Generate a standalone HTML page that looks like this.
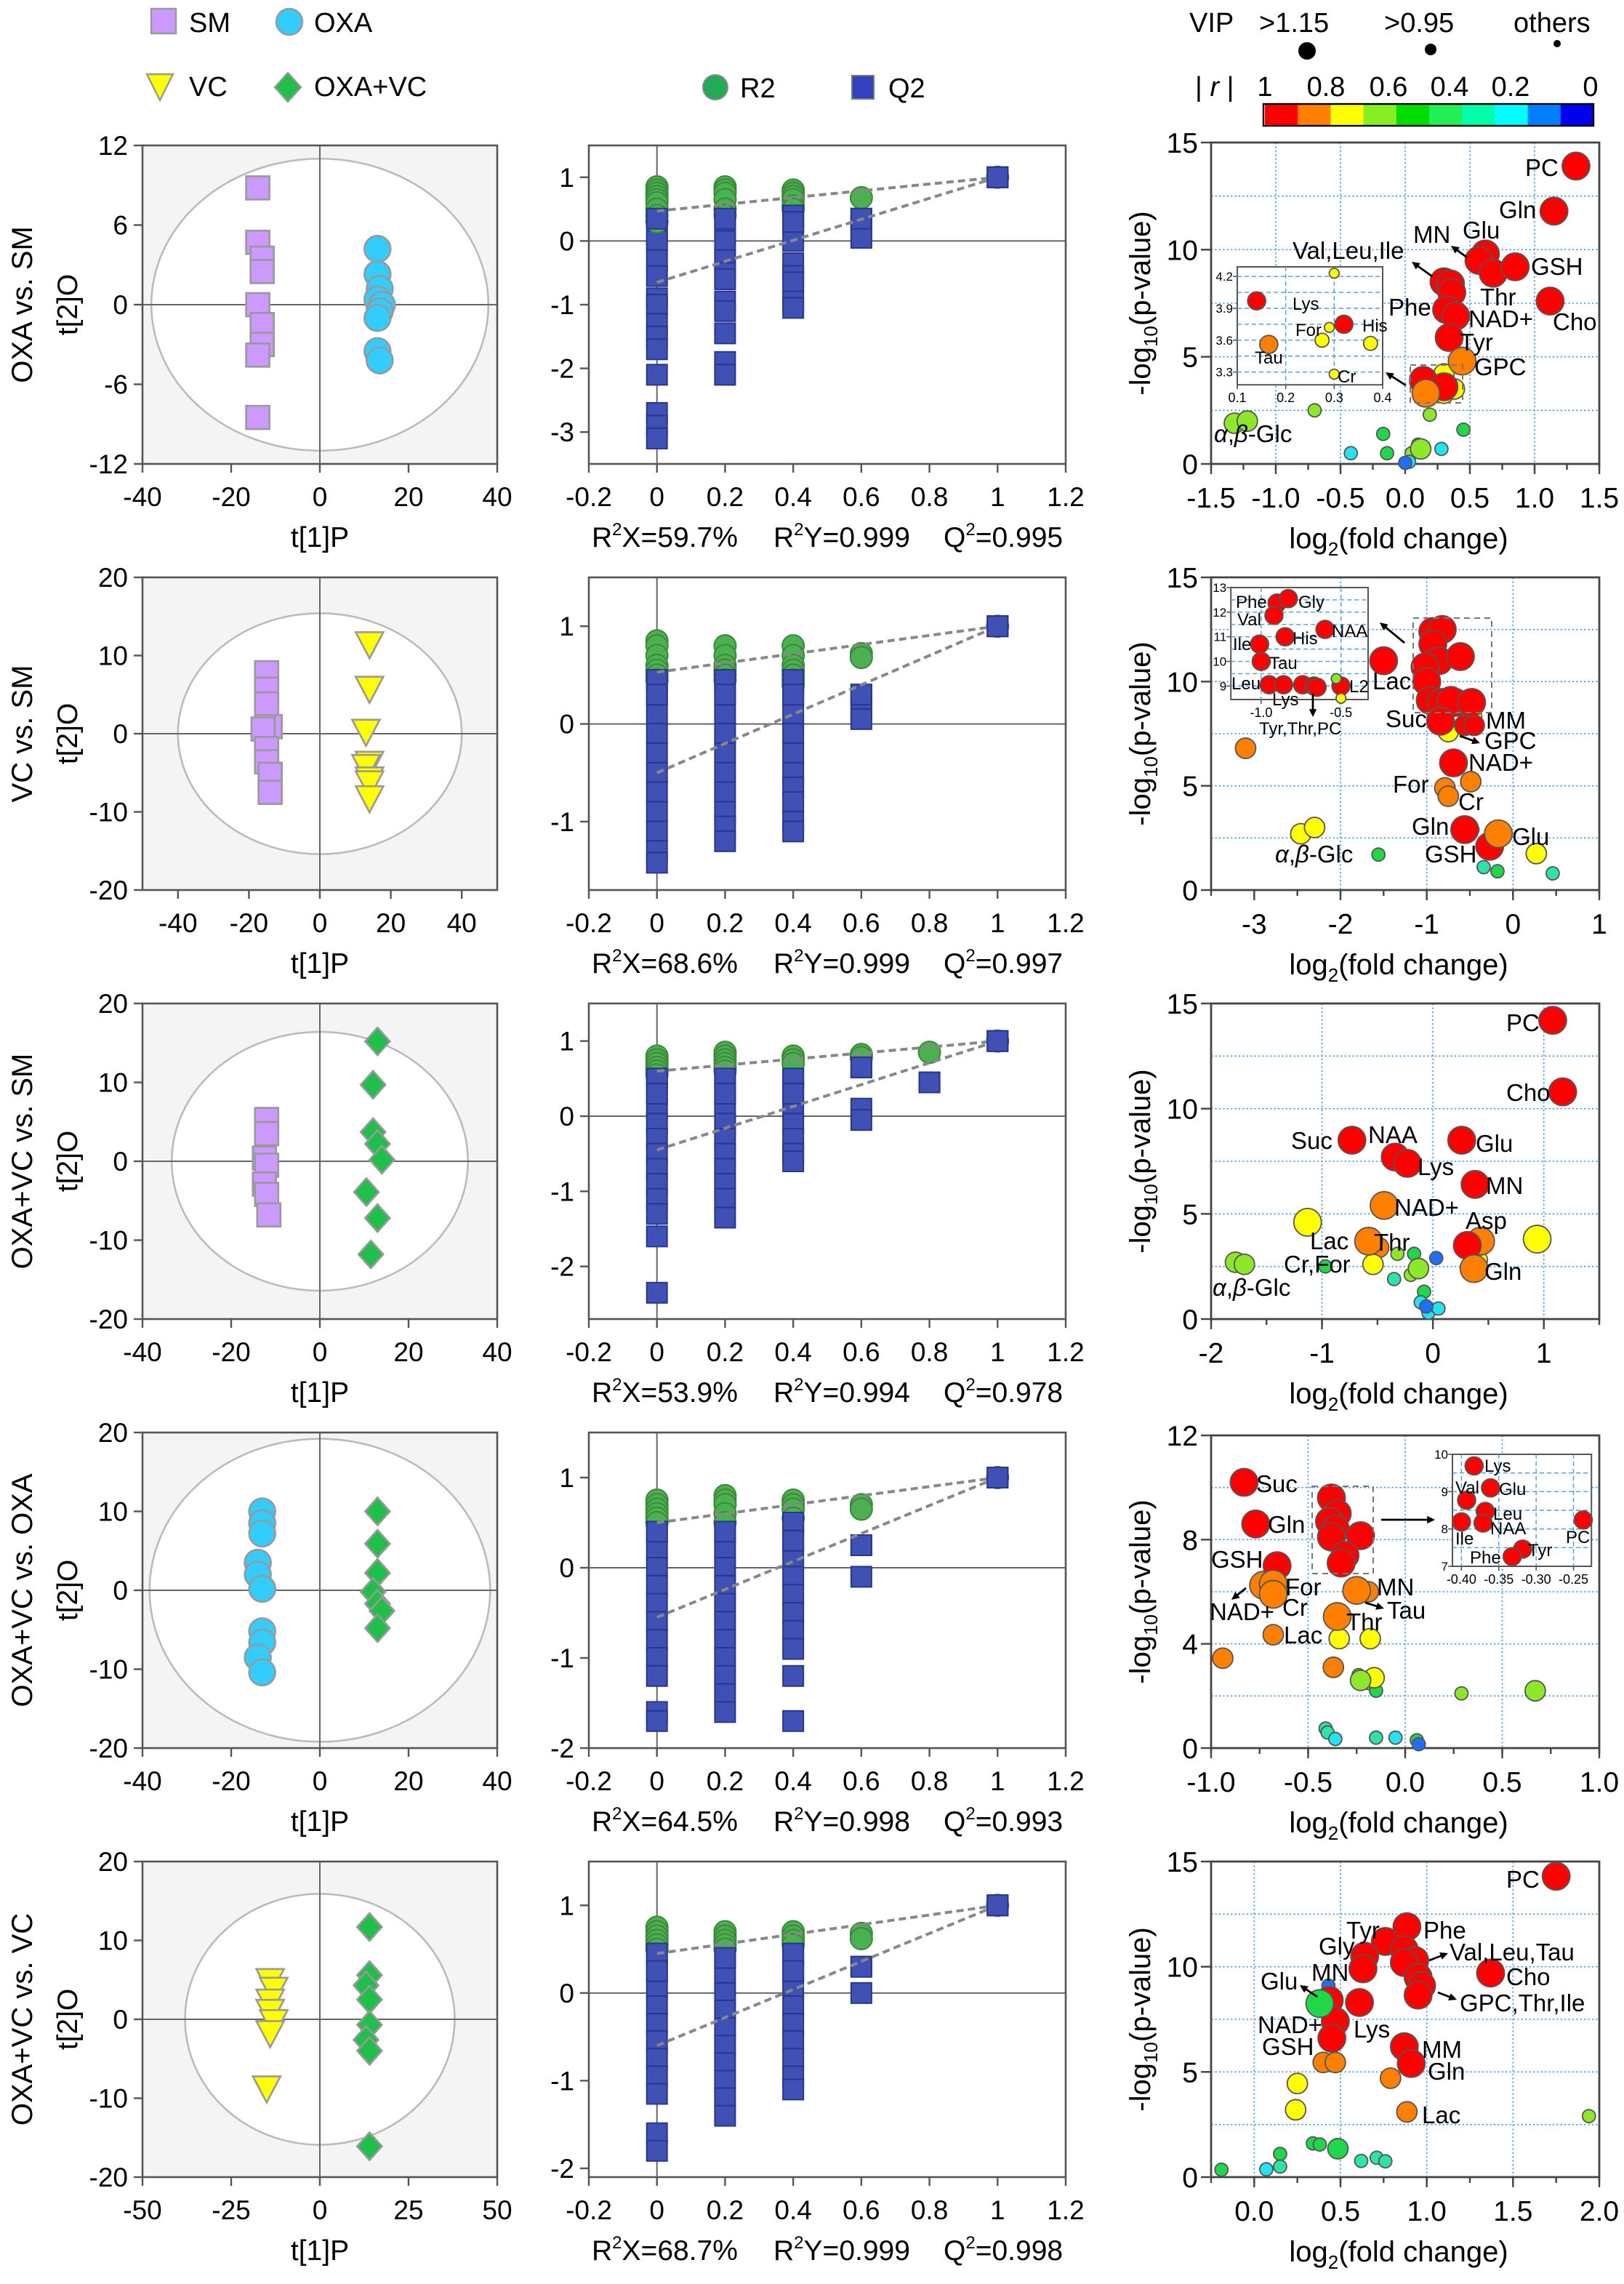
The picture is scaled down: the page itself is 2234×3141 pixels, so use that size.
<!DOCTYPE html>
<html><head><meta charset="utf-8">
<style>
html,body{margin:0;padding:0;background:#fff;}
svg{display:block;font-family:"Liberation Sans",Arial,sans-serif;}
</style></head>
<body>
<svg id="fig" xmlns="http://www.w3.org/2000/svg" width="2234" height="3141" viewBox="0 0 1117 1570.5" preserveAspectRatio="none"></svg>
<script>
// ---------- score plot data ----------
const s1Ax=[-14,-14,-13,-13,-14,-13,-13,-14,-14], s1Ay=[8.8,4.7,3.5,2.5,0,-1.5,-3.0,-3.8,-8.5];
const s1Bx=[13,13,13.5,13,14,13.5,13,13,13.5], s1By=[4.2,2.3,1.2,0.4,0,-0.5,-1,-3.5,-4.2];
const s2Ax=[-15,-15,-15,-14,-16,-15,-15,-14,-14], s2Ay=[7.8,5.7,3.8,0.9,0.6,-1.9,-3.6,-5.2,-7.5];
const s2Bx=[14,14,13,14,13,14,14,14], s2By=[11.5,5.8,0.3,-3.8,-4.2,-5.8,-6.3,-8.2];
const s3Ax=[-12,-12,-12.5,-12,-12.5,-12,-11.5], s3Ay=[5.3,3.5,0.4,-0.5,-2.9,-4.2,-6.8];
const s3Bx=[13,12,12,13,14,10.5,13,11.5], s3By=[15.2,9.7,3.7,2.2,0.2,-3.9,-7.2,-11.8];
const s4Ax=[-13,-13,-13,-14,-14,-13,-13,-13,-14,-13], s4Ay=[10,8.5,7.2,3.5,2,0.2,-5.2,-6.6,-8.5,-10.4];
const s4Bx=[13,13,13,12,13,14,13], s4By=[10,5.9,2.2,-0.2,-1.7,-2.6,-4.8];
const s5Ax=[-14,-13,-14,-14,-13,-14,-15], s5Ay=[4.9,3.8,2.3,1,-0.3,-1.7,-8.7];
const s5Bx=[14,14,13,14,14,13,14,14], s5By=[11.7,5.6,4.3,2.5,-0.7,-2.6,-4,-16.1];
// ---------- permutation data ----------
const permX=[0,0.2,0.4,0.6,0.8,1];
const p1R2=[[0.85,0.8,0.75,0.7,0.65,0.6,0.5,0.4,0.3],[0.85,0.8,0.75,0.65,0.5,0.4],[0.8,0.75,0.7,0.65,0.55,0.5],[0.68],[],[1]];
const p1Q2=[[0.35,0.1,0,-0.3,-0.55,-0.9,-1.0,-1.3,-1.5,-1.7,-2.1,-2.7,-2.9,-3.1],[0.35,0.2,0,-0.3,-0.5,-0.6,-0.95,-1.1,-1.45,-1.9,-2.1],[0.4,0.3,0,-0.35,-0.55,-0.65,-0.95,-1.05],[0.35,0.2,0.05],[],[1]];
const p2R2=[[0.85,0.8,0.7,0.6,0.55,0.5,0.45],[0.8,0.7,0.6,0.55,0.5,0.45],[0.8,0.7,0.6,0.55,0.5,0.45,0.4],[0.72,0.68],[],[1]];
const p2Q2=[[0.45,0.3,0.1,-0.1,-0.3,-0.5,-0.7,-0.9,-1.1,-1.3,-1.42],[0.45,0.3,0.1,-0.1,-0.3,-0.5,-0.7,-0.9,-1.05,-1.2],[0.45,0.3,0.1,-0.1,-0.3,-0.5,-0.65,-0.8,-1.0,-1.1],[0.3,0.15,0.05],[],[1]];
const p3R2=[[0.8,0.75,0.7,0.65,0.6,0.55],[0.85,0.8,0.75,0.7,0.65,0.6],[0.8,0.75,0.7],[0.82,0.78],[0.85],[1]];
const p3Q2=[[0.5,0.3,0.1,-0.1,-0.3,-0.5,-0.7,-0.9,-1.1,-1.3,-1.6,-2.35],[0.5,0.3,0.1,-0.1,-0.3,-0.5,-0.7,-0.9,-1.1,-1.35],[0.5,0.3,0.1,-0.1,-0.3,-0.5,-0.6],[0.65,0.1,-0.05],[0.45],[1]];
const p4R2=[[0.75,0.7,0.65,0.6,0.55,0.5],[0.8,0.75,0.7,0.6,0.5],[0.75,0.7,0.65,0.55],[0.7,0.65],[],[1]];
const p4Q2=[[0.4,0.2,0,-0.2,-0.4,-0.6,-0.8,-1.0,-1.2,-1.6,-1.7],[0.4,0.2,0,-0.2,-0.4,-0.6,-0.8,-1.0,-1.2,-1.4,-1.6],[0.5,0.3,0.1,-0.1,-0.3,-0.5,-0.7,-0.9,-1.2,-1.7],[0.25,-0.1],[],[1]];
const p5R2=[[0.75,0.7,0.65,0.6,0.55,0.5],[0.7,0.65,0.6,0.55,0.5],[0.7,0.65,0.6,0.55],[0.68,0.62],[],[1]];
const p5Q2=[[0.45,0.25,0.05,-0.15,-0.35,-0.55,-0.75,-0.95,-1.15,-1.6,-1.8],[0.4,0.2,0,-0.2,-0.4,-0.6,-0.8,-1.0,-1.2,-1.4],[0.45,0.25,0.05,-0.15,-0.35,-0.55,-0.75,-0.95,-1.1],[0.3,0.0],[],[1]];
const permR2int=[0.47,0.53,0.6,0.5,0.45];
const permQ2int=[-0.65,-0.5,-0.45,-0.55,-0.6];
const permStats=[["59.7%","0.999","0.995"],["68.6%","0.999","0.997"],["53.9%","0.994","0.978"],["64.5%","0.998","0.993"],["68.7%","0.999","0.998"]];
// ---------- volcano data ----------
const v1x=[1.32,1.15,0.62,0.57,0.68,0.85,1.12,0.30,0.35,0.36,0.32,0.39,0.34,0.44,0.14,0.30,0.16,0.30,0.30,0.38,0.19,-0.70,-1.32,-1.22,0.45,-0.17,-0.14,-0.42,0.28,0.10,0.12,0.05,0.03,0.00];
const v1y=[13.9,11.8,9.8,9.5,8.9,9.2,7.6,8.5,8.4,8.0,7.2,6.9,5.9,4.8,3.9,3.6,3.3,4.2,3.3,3.5,2.3,2.5,1.9,2.0,1.6,1.4,0.5,0.5,0.7,0.9,0.7,0.5,0.1,0.05];
const v1s="LLLLLLLLLLLLLLLLLMMMSSMMSSSSSSMSSS";
const v1c="RRRRRRRRRRRRRORROYYYGGGGNNNCCSGGCB";
const i1x=[0.14,0.32,0.165,0.29,0.275,0.375,0.30,0.30], i1y=[3.97,3.75,3.56,3.72,3.6,3.57,4.23,3.28];
const i1s="LLLSMMSS", i1c="RROYYYYY";
const v2x=[-0.93,-0.82,-0.93,-0.86,-0.61,-1.02,-1.0,-1.5,-0.96,-0.83,-0.67,-0.72,-0.48,-0.52,-0.84,-0.75,-0.48,-0.56,-0.45,-0.69,-0.49,-0.79,-0.75,-3.1,-0.56,-0.47,-0.27,-0.17,0.27,-2.46,-2.3,-1.56,-0.34,-0.18,0.46];
const v2y=[12.4,12.5,11.8,11.0,11.2,10.7,10.0,11.0,9.1,9.0,9.0,9.1,9.0,9.3,8.1,7.6,8.3,7.9,7.9,6.1,5.2,4.9,4.5,6.8,2.9,2.9,2.1,2.7,1.75,2.7,3.0,1.7,1.1,0.9,0.8];
const v2s="LLLLLLLLLLLLLSLMMMMLMMMMLSLLMMMSSSS";
const v2c="RRRRRRRRRRRRRGRYYRRROOOORYROYYYNSNS";
const i2x=[-0.9,-0.83,-0.92,-0.6,-0.85,-1.01,-1.0,-0.95,-0.86,-0.74,-0.67,-0.65,-0.5,-0.53,-0.5];
const i2y=[12.37,12.55,11.87,11.3,11.0,10.7,10.0,9.05,9.05,9.05,9.0,8.95,9.0,9.3,8.5];
const i2s="LLLLLLLLLLLLLSS", i2c="RRRRRRRRRRRRRGY";
const v3x=[1.08,1.17,-0.73,-0.34,-0.23,0.26,0.38,-0.44,0.43,0.31,-1.13,0.94,-0.58,-0.49,0.37,0.40,-0.54,-1.78,-1.70,-0.32,-0.17,0.03,-0.35,-0.13,-0.20,-0.08,-0.11,-0.04,0.05,-0.06,-0.97];
const v3y=[14.2,10.8,8.5,7.7,7.4,8.5,6.4,5.4,3.7,3.5,4.6,3.8,3.7,3.4,2.4,2.8,2.6,2.7,2.6,3.1,3.1,2.9,1.9,2.4,2.1,1.3,0.8,0.3,0.5,0.6,2.5];
const v3s="LLLLLLLLLLLLLMLMMMMSSSSMSSSSSSS";
const v3c="RRRRRRROORYYOOOYYGGGNBSGGNCCCBN";
const v4x=[-0.83,-0.77,-0.66,-0.38,-0.35,-0.39,-0.36,-0.38,-0.23,-0.31,-0.33,-0.73,-0.68,-0.68,-0.25,-0.19,-0.35,-0.68,-0.34,-0.18,-0.94,-0.37,-0.16,-0.24,-0.23,-0.19,-0.15,0.29,0.67,-0.41,-0.40,-0.36,-0.15,-0.05,0.06,0.07];
const v4y=[10.2,8.6,7.0,9.6,9.0,8.7,8.4,8.1,8.15,7.4,7.1,6.25,6.3,5.9,6.05,6.0,5.05,4.35,4.2,4.2,3.45,3.1,2.7,2.8,2.6,2.5,2.2,2.1,2.2,0.75,0.6,0.35,0.4,0.4,0.3,0.15];
const v4s="LLLLLLLLLLLLLLLMLMMMMMMSMSSSMSSSSSSS";
const v4c="RRRRRRRRRRROOOOOOOYYOOYGGGNGGSSCSCNB";
const i4x=[-0.383,-0.361,-0.393,-0.368,-0.40,-0.371,-0.237,-0.318,-0.332];
const i4y=[9.69,9.1,8.77,8.47,8.19,8.16,8.24,7.46,7.26];
const i4s="LLLLLLLLL", i4c="RRRRRRRRR";
const v5x=[1.75,0.885,0.76,0.64,0.63,0.87,0.93,0.87,0.95,0.97,0.95,1.37,0.435,0.61,0.47,0.45,0.87,0.91,0.38,0.43,0.40,0.47,0.79,0.885,0.25,0.24,1.94,0.34,0.38,0.485,0.15,0.15,0.07,-0.19,0.62,0.71,0.76];
const v5y=[14.3,11.9,11.2,10.5,9.9,10.8,10.3,10.2,9.5,9.1,8.65,9.7,8.4,8.3,7.4,6.6,6.2,5.4,8.25,9.1,5.45,5.45,4.7,3.1,4.45,3.2,2.9,1.6,1.55,1.35,1.1,0.5,0.37,0.35,0.77,0.92,0.75];
const v5s="LLLLLLLLLLLLLLLLLLLSMMMMMMSSSMSSSSSSS";
const v5c="RRRRRRRRRRRRRRRRRRNBOOOOYYGNNNNSCNSSS";

const COL={R:"#ff0000",O:"#ff8000",Y:"#ffff00",G:"#8ee82a",N:"#1fd84a",S:"#2ee3a8",C:"#22e3f0",B:"#1f6fff"};
const RAD={L:9.5,M:7,S:4.5};
const IRAD={L:6.2,M:4.8,S:3.4};

const NS="http://www.w3.org/2000/svg";
const svg=document.getElementById("fig");
function mk(tag,parent,attrs){const e=document.createElementNS(NS,tag);for(const k in attrs)e.setAttribute(k,attrs[k]);(parent||svg).appendChild(e);return e;}
function txt(parent,x,y,s,size,anchor,extra){const t=mk("text",parent,Object.assign({x:x,y:y,"font-size":size,"text-anchor":anchor||"start",fill:"#000"},extra||{}));t.textContent=s;return t;}
function lin(a,b){return v=>a[2]+(v-a[0])*(a[3]-a[2])/(a[1]-a[0]);}

// ---------- legend ----------
const lg=mk("g",svg,{});


let e;
e=mk("rect",lg,{x:104,y:6,width:17,height:17,fill:"#cc99ff",stroke:"#999","stroke-width":1.2});

txt(lg,130,22,"SM",19);
e=mk("circle",lg,{cx:199,cy:15,r:9,fill:"#33ccff",stroke:"#999","stroke-width":1.2});

txt(lg,216,22,"OXA",19);
e=mk("path",lg,{d:"M101,51 L119,51 L110,69 Z",fill:"#ffff00",stroke:"#999","stroke-width":1.2});

txt(lg,130,66,"VC",19);
e=mk("path",lg,{d:"M198,50 L207,60 L198,70 L189,60 Z",fill:"#1fbf4a",stroke:"#999","stroke-width":1.2});

txt(lg,216,66,"OXA+VC",19);
e=mk("circle",lg,{cx:492,cy:60,r:8.5,fill:"#22aa55",stroke:"#888","stroke-width":1});

txt(lg,509,67,"R2",19);
e=mk("rect",lg,{x:586,y:52,width:15,height:16,fill:"#3340c0",stroke:"#777","stroke-width":1});

txt(lg,611,67,"Q2",19);
txt(lg,818,22,"VIP",19);txt(lg,866,22,">1.15",19);txt(lg,952,22,">0.95",19);txt(lg,1041,22,"others",19);
e=mk("circle",lg,{cx:899,cy:35,r:6,fill:"#000"});
e=mk("circle",lg,{cx:984,cy:34,r:4,fill:"#000"});
e=mk("circle",lg,{cx:1071,cy:30,r:2.5,fill:"#000"});
const rt=txt(lg,822,66,"",19);rt.innerHTML='| <tspan font-style="italic">r</tspan> |';
const cbLabels=["1","0.8","0.6","0.4","0.2","0"], cbLX=[870,912,955,997,1039,1094];
cbLabels.forEach((s,i)=>txt(lg,cbLX[i],66,s,19,"middle"));
const cbColors=["#ff0000","#ff8000","#ffff00","#88ee22","#00dd00","#22ee55","#00ffaa","#00ffff","#0080ff","#0000ee"];
const cb=mk("g",lg,{});
cbColors.forEach((c,i)=>mk("rect",cb,{x:870+i*22.6,y:72,width:22.8,height:14,fill:c}));
mk("rect",cb,{x:869,y:71.5,width:227,height:15,fill:"none",stroke:"#000","stroke-width":1.2});

// ---------- rows ----------
const rowTop=[100,397,690,985,1280], rowBot=[319,612,907,1202,1497];
const rowTitles=["OXA vs. SM","VC vs. SM","OXA+VC vs. SM","OXA+VC vs. OXA","OXA+VC vs. VC"];
const scoreXdom=[[-40,40],[-50,50],[-40,40],[-40,40],[-50,50]];
const scoreXt=[[-40,-20,0,20,40],[-40,-20,0,20,40],[-40,-20,0,20,40],[-40,-20,0,20,40],[-50,-25,0,25,50]];
const scoreYdom=[[-12,12],[-20,20],[-20,20],[-20,20],[-20,20]];
const scoreYt=[[-12,-6,0,6,12],[-20,-10,0,10,20],[-20,-10,0,10,20],[-20,-10,0,10,20],[-20,-10,0,10,20]];
const ellR=[[38,11],[40,15.4],[33.4,16.4],[38.4,19.2],[38,15.9]];
const scoreA=[[s1Ax,s1Ay,"sq"],[s2Ax,s2Ay,"sq"],[s3Ax,s3Ay,"sq"],[s4Ax,s4Ay,"ci"],[s5Ax,s5Ay,"tri"]];
const scoreB=[[s1Bx,s1By,"ci"],[s2Bx,s2By,"tri"],[s3Bx,s3By,"dia"],[s4Bx,s4By,"dia"],[s5Bx,s5By,"dia"]];
const permR2=[p1R2,p2R2,p3R2,p4R2,p5R2], permQ2=[p1Q2,p2Q2,p3Q2,p4Q2,p5Q2];
const permYdom=[[-3.5,1.5],[-1.7,1.5],[-2.7,1.5],[-2.0,1.5],[-2.1,1.5]];
const permYt=[[-3,-2,-1,0,1],[-1,0,1],[-2,-1,0,1],[-2,-1,0,1],[-2,-1,0,1]];

function marker(g,kind,x,y){
  if(kind==="sq")return mk("rect",g,{x:x-8,y:y-8,width:16,height:16,fill:"#cc99ff",stroke:"#999","stroke-width":1.3});
  if(kind==="ci")return mk("circle",g,{cx:x,cy:y,r:9,fill:"#33ccff",stroke:"#999","stroke-width":1.3});
  if(kind==="tri")return mk("path",g,{d:`M${x-9.5},${y-8} L${x+9.5},${y-8} L${x},${y+10} Z`,fill:"#ffff00",stroke:"#999","stroke-width":1.3});
  return mk("path",g,{d:`M${x},${y-9.5} L${x+8.5},${y} L${x},${y+9.5} L${x-8.5},${y} Z`,fill:"#1fbf4a",stroke:"#999","stroke-width":1.3});
}
function fmt(v){return (v<0?"-":"")+Math.abs(v);}

for(let r=0;r<5;r++){
  const T=rowTop[r],B=rowBot[r];
  // ----- score plot -----
  const g=mk("g",svg,{});
  
  
  const X=lin([scoreXdom[r][0],scoreXdom[r][1],98,342]),Y=lin([scoreYdom[r][0],scoreYdom[r][1],B,T]);
  mk("rect",g,{x:98,y:T,width:244,height:B-T,fill:"#f4f4f4"});
  const el=mk("ellipse",g,{cx:X(0),cy:Y(0),rx:X(ellR[r][0])-X(0),ry:Y(0)-Y(ellR[r][1]),fill:"#fff",stroke:"#bbb","stroke-width":1.3});
  
  mk("line",g,{x1:98,x2:342,y1:Y(0),y2:Y(0),stroke:"#666","stroke-width":1});
  mk("line",g,{x1:X(0),x2:X(0),y1:T,y2:B,stroke:"#666","stroke-width":1});
  mk("rect",g,{x:98,y:T,width:244,height:B-T,fill:"none",stroke:"#555","stroke-width":1.3});
  scoreXt[r].forEach(v=>{mk("line",g,{x1:X(v),x2:X(v),y1:B,y2:B+6,stroke:"#555","stroke-width":1.2});txt(g,X(v),B+29,fmt(v),18.5,"middle");});
  scoreYt[r].forEach(v=>{mk("line",g,{x1:92,x2:98,y1:Y(v),y2:Y(v),stroke:"#555","stroke-width":1.2});txt(g,88,Y(v)+6.5,fmt(v),18.5,"end");});
  [scoreA[r],scoreB[r]].forEach((grp,gi)=>{
    const gg=mk("g",g,{});
    
    
    grp[0].forEach((xv,i)=>{const m=marker(gg,grp[2],X(xv),Y(grp[1][i]));
      
      });
  });
  txt(g,220,B+57,"t[1]P",19.5,"middle");
  const cy=(T+B)/2;
  const yt=txt(g,0,0,"t[2]O",19.5,"middle",{transform:`translate(53,${cy}) rotate(-90)`});
  
  const tt=txt(g,0,0,rowTitles[r],20,"middle",{transform:`translate(22,${cy}) rotate(-90)`});
  

  // ----- permutation plot -----
  const p=mk("g",svg,{});
  
  
  const PX=lin([-0.2,1.2,405,733]),PY=lin([permYdom[r][0],permYdom[r][1],B,T]);
  mk("line",p,{x1:405,x2:733,y1:PY(0),y2:PY(0),stroke:"#666","stroke-width":1});
  mk("line",p,{x1:PX(0),x2:PX(0),y1:T,y2:B,stroke:"#666","stroke-width":1});
  mk("rect",p,{x:405,y:T,width:328,height:B-T,fill:"none",stroke:"#555","stroke-width":1.3});
  [-0.2,0,0.2,0.4,0.6,0.8,1,1.2].forEach(v=>{mk("line",p,{x1:PX(v),x2:PX(v),y1:B,y2:B+6,stroke:"#555","stroke-width":1.2});txt(p,PX(v),B+29,fmt(+v.toFixed(1)),18.5,"middle");});
  permYt[r].forEach(v=>{mk("line",p,{x1:399,x2:405,y1:PY(v),y2:PY(v),stroke:"#555","stroke-width":1.2});txt(p,395,PY(v)+6.5,fmt(v),18.5,"end");});
  const qs=mk("g",p,{});
  permQ2[r].forEach((arr,k)=>arr.forEach(v=>{const s=mk("rect",qs,{x:PX(permX[k])-7,y:PY(v)-7,width:14,height:14,fill:"#3f51b5",stroke:"#2a3590","stroke-width":1});
    
    }));
  const rs=mk("g",p,{});
  permR2[r].forEach((arr,k)=>arr.forEach(v=>{const c=mk("circle",rs,{cx:PX(permX[k]),cy:PY(v),r:7.5,fill:"#4cb050",stroke:"#3a8a3a","stroke-width":1});
    
    }));
  // redraw blue squares above circles for overlapping region (as in original)
  permQ2[r].forEach((arr,k)=>arr.forEach(v=>{if(v>0.2){const s=mk("rect",p,{x:PX(permX[k])-7,y:PY(v)-7,width:14,height:14,fill:"#3f51b5",stroke:"#2a3590","stroke-width":1});
    
    }}));
  let l=mk("line",p,{x1:PX(0),y1:PY(permR2int[r]),x2:PX(1),y2:PY(1),stroke:"#888","stroke-width":2,"stroke-dasharray":"5,3"});
  
  l=mk("line",p,{x1:PX(0),y1:PY(permQ2int[r]),x2:PX(1),y2:PY(1),stroke:"#888","stroke-width":2,"stroke-dasharray":"5,3"});
  
  const fin=mk("rect",p,{x:PX(1)-7,y:PY(1)-7,width:14,height:14,fill:"#3f51b5",stroke:"#2a3590","stroke-width":1});
  
  const st=permStats[r];
  let s1=txt(p,407,B+57,"",19.5);s1.innerHTML=`R<tspan font-size="12" dy="-8">2</tspan><tspan dy="8">X=${st[0]}</tspan>`;
  
  s1=txt(p,532,B+57,"",19.5);s1.innerHTML=`R<tspan font-size="12" dy="-8">2</tspan><tspan dy="8">Y=${st[1]}</tspan>`;
  
  s1=txt(p,649,B+57,"",19.5);s1.innerHTML=`Q<tspan font-size="12" dy="-8">2</tspan><tspan dy="8">=${st[2]}</tspan>`;
  
}

// ---------- volcano plots ----------
const VC=[
 {xd:[-1.5,1.5],yd:[0,15],xt:[-1.5,-1,-0.5,0,0.5,1,1.5],xl:["-1.5","-1.0","-0.5","0.0","0.5","1.0","1.5"],yt:[0,5,10,15],gx:[-1,-0.5,0,0.5,1],gy:[2.5,5,7.5,10,12.5],mn:0.25,x:v1x,y:v1y,s:v1s,c:v1c},
 {xd:[-3.5,1],yd:[0,15],xt:[-3,-2,-1,0,1],xl:["-3","-2","-1","0","1"],yt:[0,5,10,15],gx:[-2,-1,0],gy:[2.5,5,7.5,10,12.5],mn:0.5,x:v2x,y:v2y,s:v2s,c:v2c},
 {xd:[-2,1.5],yd:[0,15],xt:[-2,-1,0,1],xl:["-2","-1","0","1"],yt:[0,5,10,15],gx:[-1,0,1],gy:[2.5,5,7.5,10,12.5],mn:0.5,x:v3x,y:v3y,s:v3s,c:v3c},
 {xd:[-1,1],yd:[0,12],xt:[-1,-0.5,0,0.5,1],xl:["-1.0","-0.5","0.0","0.5","1.0"],yt:[0,4,8,12],gx:[-0.5,0,0.5],gy:[2,4,6,8,10],mn:0.25,x:v4x,y:v4y,s:v4s,c:v4c},
 {xd:[-0.25,2],yd:[0,15],xt:[0,0.5,1,1.5,2],xl:["0.0","0.5","1.0","1.5","2.0"],yt:[0,5,10,15],gx:[0,0.5,1,1.5],gy:[2.5,5,7.5,10,12.5],mn:0.25,x:v5x,y:v5y,s:v5s,c:v5c}
];
const vTop=[98,397,690,987,1280];
function dot(g,x,y,r,c,name){const d=mk("circle",g,{cx:x,cy:y,r:r,fill:c,stroke:"#555","stroke-width":0.9});
  
  return d;}
function arrow(g,x1,y1,x2,y2){const a=Math.atan2(y2-y1,x2-x1),h=6;
  mk("line",g,{x1:x1,y1:y1,x2:x2-Math.cos(a)*4,y2:y2-Math.sin(a)*4,stroke:"#000","stroke-width":1.4});
  mk("path",g,{d:`M${x2},${y2} L${x2-h*Math.cos(a-0.45)},${y2-h*Math.sin(a-0.45)} L${x2-h*Math.cos(a+0.45)},${y2-h*Math.sin(a+0.45)} Z`,fill:"#000"});}

const VL=[
 [["PC",1049,121],["Gln",1031,150],["Glu",1006,164],["MN",972,167],["Val,Leu,Ile",889,178],["GSH",1053,189],["Thr",1018,210],["Cho",1068,227],["Phe",955,217],["NAD+",1010,225],["Tyr",1004,241],["GPC",1014,258]],
 [["Lac",944,474],["Suc",953,500],["MM",1022,501],["GPC",1021,515],["NAD+",1010,530],["For",958,545],["Cr",1003,557],["Gln",971,574],["GSH",980,593],["Glu",1040,581]],
 [["PC",1036,709],["Cho",1036,757],["Suc",888,790],["NAA",941,786],["Glu",1015,792],["Lys",975,808],["MN",1022,821],["NAD+",959,836],["Asp",1008,845],["Lac",901,859],["Thr",945,860],["Cr,For",883,875],["Gln",1021,880]],
 [["Suc",864,1026],["Gln",872,1054],["GSH",833,1078],["For",884,1097],["NAD+",832,1114],["Cr",882,1111],["MN",947,1097],["Tau",954,1113],["Thr",926,1121],["Lac",883,1130]],
 [["PC",1036,1298],["Tyr",926,1333],["Phe",979,1333],["Gly",907,1344],["Val,Leu,Tau",997,1348],["MN",902,1362],["Glu",867,1368],["Cho",1036,1365],["GPC,Thr,Ile",1004,1383],["NAD+",865,1398],["Lys",931,1401],["GSH",868,1413],["MM",978,1415],["Gln",982,1430],["Lac",978,1460]]
];
const VA=[
 [[985,190,971,180],[1009,177,998,169],[967,265,953,256]],
 [[966,442,949,428],[1004,506,1018,511]],
 [],
 [[857,1092,847,1100],[939,1102,952,1106],[950,1045,987,1045]],
 [[906,1373,894,1365],[983,1348,996,1343],[989,1370,1002,1375]]
];
const glcPos=[[835,304],[877,593],[834,891]];

for(let r=0;r<5;r++){
  const cfg=VC[r],T=vTop[r],B=rowBot[r];
  const g=mk("g",svg,{});
  
  
  const X=lin([cfg.xd[0],cfg.xd[1],833,1100]),Y=lin([cfg.yd[0],cfg.yd[1],B,T]);
  cfg.gx.forEach(v=>mk("line",g,{x1:X(v),x2:X(v),y1:T,y2:B,stroke:"#4d9be6","stroke-width":0.8,"stroke-dasharray":"1.2,1.5"}));
  cfg.gy.forEach(v=>mk("line",g,{x1:833,x2:1100,y1:Y(v),y2:Y(v),stroke:"#4d9be6","stroke-width":0.8,"stroke-dasharray":"1.2,1.5"}));
  mk("rect",g,{x:833,y:T,width:267,height:B-T,fill:"none",stroke:"#444","stroke-width":1.4});
  for(let v=cfg.xd[0];v<=cfg.xd[1]+1e-9;v+=cfg.mn) mk("line",g,{x1:X(v),x2:X(v),y1:B,y2:B+4,stroke:"#444","stroke-width":1.2});
  cfg.xt.forEach((v,i)=>{mk("line",g,{x1:X(v),x2:X(v),y1:B,y2:B+7,stroke:"#444","stroke-width":1.2});txt(g,X(v),B+30,cfg.xl[i],19.5,"middle");});
  cfg.yt.forEach(v=>{mk("line",g,{x1:826,x2:833,y1:Y(v),y2:Y(v),stroke:"#444","stroke-width":1.2});txt(g,824,Y(v)+7,String(v),19.5,"end");});
  const yl=txt(g,0,0,"",20,"middle",{transform:`translate(791,${(T+B)/2}) rotate(-90)`});
  yl.innerHTML='-log<tspan font-size="13" dy="5">10</tspan><tspan dy="-5">(p-value)</tspan>';
  
  const xl=txt(g,962,B+58,"",20,"middle");
  xl.innerHTML='log<tspan font-size="13" dy="5">2</tspan><tspan dy="-5">(fold change)</tspan>';
  
  // points: draw small first, large last
  const pts=mk("g",g,{});
  ["S","M","L"].forEach(sz=>cfg.x.forEach((xv,i)=>{if(cfg.s[i]===sz)dot(pts,X(xv),Y(cfg.y[i]),RAD[sz],COL[cfg.c[i]],'metabolite-point');}));
  VL[r].forEach(lb=>{const t=txt(g,lb[1],lb[2],lb[0],16.5);});
  VA[r].forEach(a=>arrow(g,a[0],a[1],a[2],a[3]));
  if(r<3){const t=txt(g,glcPos[r][0],glcPos[r][1],"",16.5);t.innerHTML='<tspan font-style="italic">α</tspan>,<tspan font-style="italic">β</tspan>-Glc';
    }
}
// dashed selection boxes
[[1006-36,251,36,26],[972,425,54,65],[902.5,1022,42,60]].forEach(b=>{const d=mk("rect",svg,{x:b[0],y:b[1],width:b[2],height:b[3],fill:"none",stroke:"#777","stroke-width":1,"stroke-dasharray":"4,3"});
  });

// ---------- insets ----------
const IN=[
 {bx:[851,951,183.5,264.6],xd:[0.1,0.4],yd:[3.18,4.29],xt:[0.1,0.2,0.3,0.4],xl:["0.1","0.2","0.3","0.4"],yt:[3.3,3.6,3.9,4.2],gx:[0.2,0.3],gy:[3.3,3.45,3.6,3.75,3.9,4.05,4.2],x:i1x,y:i1y,s:i1s,c:i1c,
  lab:[["Lys",889,213],["His",937,228],["For",891,231],["Tau",863,250],["Cr",920,263]]},
 {bx:[846.6,941,404,481],xd:[-1.19,-0.33],yd:[8.45,13.0],xt:[-1,-0.5],xl:["-1.0","-0.5"],yt:[9,10,11,12,13],gx:[-1,-0.5],gy:[9,9.5,10,10.5,11,11.5,12,12.5],x:i2x,y:i2y,s:i2s,c:i2c,
  lab:[["Phe",850,418],["Gly",893,418],["Val",851,430],["His",889,443],["NAA",916,438],["Ile",848,447],["Tau",873,460],["Leu",847,474],["L2",928,476],["Lys",875,485],["Tyr,Thr,PC",866,505]]},
 {bx:[999,1094.6,1000,1077],xd:[-0.412,-0.226],yd:[7,10],xt:[-0.4,-0.35,-0.3,-0.25],xl:["-0.40","-0.35","-0.30","-0.25"],yt:[7,8,9,10],gx:[-0.4,-0.35,-0.3,-0.25],gy:[7.5,8,8.5,9,9.5],x:i4x,y:i4y,s:i4s,c:i4c,
  lab:[["Lys",1021,1012],["Val",1001,1027],["Glu",1031,1028],["Leu",1027,1045],["NAA",1025,1055],["Ile",1001,1062],["PC",1077,1061],["Tyr",1051,1070],["Phe",1011,1075]]}
];
IN.forEach((c,k)=>{
  const g=mk("g",svg,{});
  
  
  const [x0,x1,y0,y1]=c.bx;
  const X=lin([c.xd[0],c.xd[1],x0,x1]),Y=lin([c.yd[0],c.yd[1],y1,y0]);
  mk("rect",g,{x:x0,y:y0,width:x1-x0,height:y1-y0,fill:"#fff",stroke:"#555","stroke-width":1});
  c.gx.forEach(v=>mk("line",g,{x1:X(v),x2:X(v),y1:y0,y2:y1,stroke:"#4d9be6","stroke-width":0.7,"stroke-dasharray":"3,2"}));
  c.gy.forEach(v=>mk("line",g,{x1:x0,x2:x1,y1:Y(v),y2:Y(v),stroke:"#4d9be6","stroke-width":0.7,"stroke-dasharray":"3,2"}));
  c.xt.forEach((v,i)=>{mk("line",g,{x1:X(v),x2:X(v),y1:y1,y2:y1+3,stroke:"#555","stroke-width":0.8});txt(g,X(v),y1+12,c.xl[i],9,"middle");});
  c.yt.forEach(v=>{mk("line",g,{x1:x0-3,x2:x0,y1:Y(v),y2:Y(v),stroke:"#555","stroke-width":0.8});txt(g,x0-3,Y(v)+3,String(v),8.5,"end");});
  const pts=mk("g",g,{});
  c.x.forEach((xv,i)=>dot(pts,X(xv),Y(c.y[i]),IRAD[c.s[i]],COL[c.c[i]],'inset-point'));
  c.lab.forEach(l=>{const t=txt(g,l[1],l[2],l[0],12);});
});
arrow(svg,903,477,903,493);
</script>
</body></html>
